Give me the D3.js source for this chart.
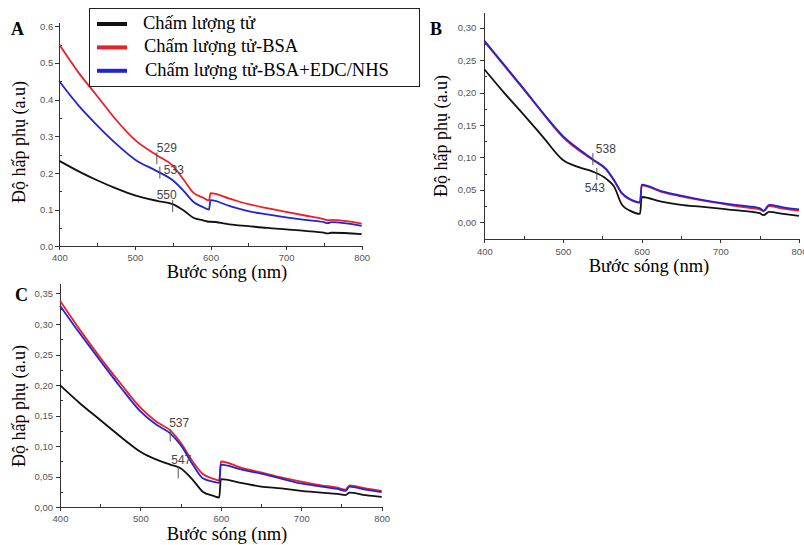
<!DOCTYPE html>
<html>
<head>
<meta charset="utf-8">
<script src="https://cdn.jsdelivr.net/npm/d3@7"></script>
<style>
body{margin:0;background:#fff}
svg{display:block}
.axis path,.axis line{stroke:#333;stroke-width:1;shape-rendering:crispEdges}
.axis text{font-family:"Liberation Sans",Arial,sans-serif;font-size:9.5px;fill:#555}
.serif{font-family:"Liberation Serif","Times New Roman",serif;fill:#000}
.peak text{font-family:"Liberation Sans",Arial,sans-serif;font-size:12px;fill:#444}
</style>
</head>
<body>
<svg id="chart" width="804" height="545"></svg>
<script>
// series names and colours (black = QD, red = QD-BSA, blue = QD-BSA+EDC/NHS)
var series_names = ['Chấm lượng tử','Chấm lượng tử-BSA','Chấm lượng tử-BSA+EDC/NHS'],
	series_colors = ['#111','#e8202a','#2323d2']

var x_ticks = [400,500,600,700,800],
	x_minor = [450,550,650,750]

// panel A
var wl_a = [400,425,450,475,500,529,550,565,578,590,598,600,625,650,675,700,725,750,755,760,800]
var qd_a = [0.233,0.205,0.18,0.158,0.139,0.124,0.115,0.097,0.077,0.071,0.067,0.067,0.06,0.055,0.05,0.046,0.042,0.037,0.035,0.037,0.033]
var qd_bsa_a = [0.55,0.475,0.41,0.345,0.29,0.248,0.22,0.18,0.145,0.133,0.125,0.145,0.13,0.115,0.104,0.094,0.084,0.074,0.071,0.072,0.062]
var qd_edc_a = [0.45,0.385,0.33,0.28,0.237,0.205,0.18,0.15,0.12,0.107,0.1,0.126,0.11,0.096,0.087,0.079,0.072,0.066,0.063,0.066,0.056]
var y_ticks_a = [0,0.1,0.2,0.3,0.4,0.5,0.6],
	y_minor_a = [0.05,0.15,0.25,0.35,0.45,0.55]
var peaks_a = [[529,0.24],[533,0.201],[550,0.11]]

// panel B
var wl_b = [400,425,450,475,500,520,538,555,565,575,585,598,600,625,650,675,700,725,750,755,762,780,800]
var qd_b = [0.236,0.2,0.166,0.131,0.096,0.085,0.078,0.067,0.055,0.027,0.018,0.013,0.039,0.032,0.027,0.024,0.021,0.018,0.014,0.011,0.016,0.013,0.01]
var qd_bsa_b = [0.279,0.242,0.205,0.167,0.131,0.111,0.096,0.081,0.064,0.044,0.035,0.03,0.057,0.047,0.04,0.034,0.029,0.024,0.02,0.017,0.025,0.021,0.018]
var qd_edc_b = [0.28,0.243,0.206,0.168,0.133,0.113,0.097,0.082,0.065,0.045,0.036,0.031,0.058,0.048,0.041,0.035,0.03,0.026,0.022,0.018,0.027,0.023,0.02]
var y_ticks_b = [0,0.05,0.1,0.15,0.2,0.25,0.3],
	y_minor_b = [0.025,0.075,0.125,0.175,0.225,0.275]
var peaks_b = [[538,0.0976],[543,0.0745]]

// panel C
var wl_c = [400,425,450,475,500,520,537,550,565,578,590,598,600,625,650,675,700,725,745,755,760,780,800]
var qd_c = [0.2,0.17,0.143,0.116,0.091,0.078,0.07,0.064,0.045,0.025,0.019,0.016,0.046,0.04,0.034,0.031,0.027,0.024,0.022,0.02,0.024,0.02,0.017]
var qd_bsa_c = [0.338,0.29,0.245,0.203,0.163,0.14,0.126,0.106,0.075,0.054,0.047,0.044,0.075,0.065,0.057,0.049,0.042,0.036,0.032,0.029,0.036,0.031,0.027]
var qd_edc_c = [0.33,0.284,0.24,0.197,0.157,0.135,0.121,0.102,0.07,0.047,0.042,0.04,0.07,0.062,0.055,0.047,0.039,0.034,0.03,0.027,0.034,0.029,0.025]
var y_ticks_c = [0,0.05,0.1,0.15,0.2,0.25,0.3,0.35],
	y_minor_c = [0.025,0.075,0.125,0.175,0.225,0.275,0.325]
var peaks_c = [[537,0.1175],[547,0.057]]

var comma = function(d){ return d3.format('.2f')(d).replace('.',',') }

// layout of each panel
var panels = [
	{name:'A', wl:wl_a, series:[qd_a,qd_bsa_a,qd_edc_a], yt:y_ticks_a, ym:y_minor_a, peaks:peaks_a,
		fmt:d3.format('.1f'), xr:[59.3,361.7], yd:[0,0.61], yr:[246.3,22.6], xpad:4, ypad:2,
		letter:[11,35], xtitle:[227,278], ytitle:[25,142],
		place:[['start',0,-6],['start',4,1],['middle',-6,-7]]},
	{name:'B', wl:wl_b, series:[qd_b,qd_bsa_b,qd_edc_b], yt:y_ticks_b, ym:y_minor_b, peaks:peaks_b,
		fmt:comma, xr:[484.3,799], yd:[-0.025,0.323], yr:[238.5,12.8], xpad:6, ypad:4,
		letter:[430,35], xtitle:[649,272], ytitle:[447,136],
		place:[['start',3,-6],['middle',-2,18]]},
	{name:'C', wl:wl_c, series:[qd_c,qd_bsa_c,qd_edc_c], yt:y_ticks_c, ym:y_minor_c, peaks:peaks_c,
		fmt:comma, xr:[60,381.7], yd:[0,0.367], yr:[507.3,283.1], xpad:4, ypad:3,
		letter:[15,301], xtitle:[227,540], ytitle:[25,406],
		place:[['start',-1,-9],['start',-7,-8]]}
]

var svg = d3.select('#chart')

panels.forEach(function(p){
	var x = d3.scaleLinear().domain([400,800]).range(p.xr),
		y = d3.scaleLinear().domain(p.yd).range(p.yr)
	var g = svg.append('g')

	g.append('g')
		.attr('class','axis')
		.attr('transform','translate(0,'+p.yr[0]+')')
		.call(d3.axisBottom(x).tickValues(x_ticks).tickSize(4).tickSizeOuter(0).tickPadding(p.xpad).tickFormat(d3.format('d')))
	g.append('g')
		.attr('class','axis')
		.attr('transform','translate(0,'+p.yr[0]+')')
		.call(d3.axisBottom(x).tickValues(x_minor).tickSize(-3).tickFormat(''))
		.select('.domain').remove()
	g.append('g')
		.attr('class','axis')
		.attr('transform','translate('+p.xr[0]+',0)')
		.call(d3.axisLeft(y).tickValues(p.yt).tickSize(4).tickSizeOuter(0).tickPadding(p.ypad).tickFormat(p.fmt))
	g.append('g')
		.attr('class','axis')
		.attr('transform','translate('+p.xr[0]+',0)')
		.call(d3.axisLeft(y).tickValues(p.ym).tickSize(-3).tickFormat(''))
		.select('.domain').remove()

	var line = d3.line()
		.curve(d3.curveMonotoneX)
		.x(function(d,i){ return x(p.wl[i]) })
		.y(function(d){ return y(d) })
	p.series.forEach(function(s,k){
		g.append('path')
			.datum(s)
			.attr('d',line)
			.attr('fill','none')
			.attr('stroke',series_colors[k])
			.attr('stroke-width',1.8)
			.attr('stroke-linejoin','round')
	})

	var peak = g.selectAll('.peak')
		.data(p.peaks)
		.enter()
		.append('g')
		.attr('class','peak')
	peak.append('line')
		.attr('x1',function(d){ return x(d[0]) })
		.attr('x2',function(d){ return x(d[0]) })
		.attr('y1',function(d){ return y(d[1]) - 6 })
		.attr('y2',function(d){ return y(d[1]) + 6 })
		.attr('stroke','#555')
		.attr('stroke-width',1)
	peak.append('text')
		.attr('x',function(d,i){ return x(d[0]) + p.place[i][1] })
		.attr('y',function(d,i){ return y(d[1]) + p.place[i][2] })
		.attr('text-anchor',function(d,i){ return p.place[i][0] })
		.text(function(d){ return d[0] })

	g.append('text')
		.attr('class','serif')
		.attr('x',p.letter[0])
		.attr('y',p.letter[1])
		.style('font-size','18px')
		.style('font-weight','bold')
		.text(p.name)
	g.append('text')
		.attr('class','serif')
		.attr('x',p.xtitle[0])
		.attr('y',p.xtitle[1])
		.attr('text-anchor','middle')
		.style('font-size','18.5px')
		.text('Bước sóng (nm)')
	g.append('text')
		.attr('class','serif')
		.attr('transform','translate('+p.ytitle[0]+','+p.ytitle[1]+') rotate(-90)')
		.attr('text-anchor','middle')
		.style('font-size','18px')
		.text('Độ hấp phụ (a.u)')
})

// legend box at top of panel A
var legend = svg.append('g')
legend.append('rect')
	.attr('x',89.5)
	.attr('y',8.5)
	.attr('width',330)
	.attr('height',78)
	.attr('fill','#fff')
	.attr('stroke','#222')
	.attr('stroke-width',1)
var row = legend.selectAll('.row')
	.data(series_names)
	.enter()
	.append('g')
	.attr('transform',function(d,i){ return 'translate(0,'+(24 + i*23.4)+')' })
row.append('line')
	.attr('x1',97)
	.attr('x2',127)
	.attr('stroke',function(d,i){ return series_colors[i] })
	.attr('stroke-width',4)
row.append('text')
	.attr('class','serif')
	.attr('x',function(d,i){ return 143 + i })
	.attr('y',5)
	.style('font-size','18.5px')
	.text(function(d){ return d })
</script>
</body>
</html>
